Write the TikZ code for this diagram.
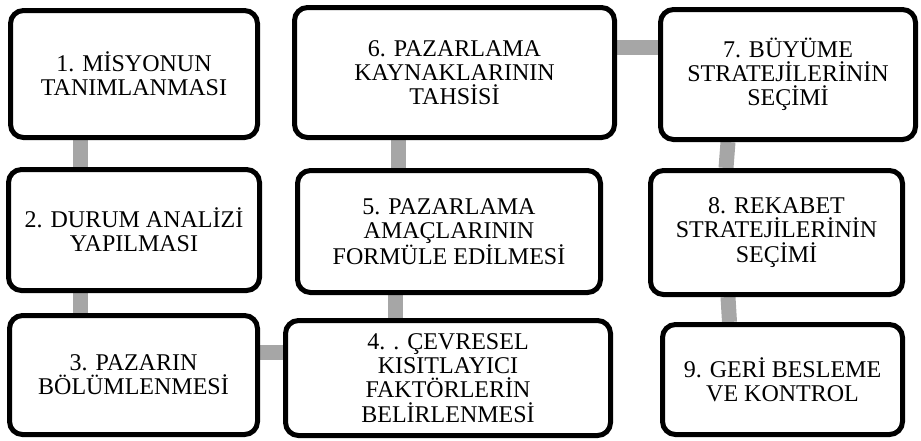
\documentclass[tikz,border=0pt]{standalone}
\usepackage{fontspec}
\setmainfont{Liberation Serif}
\usetikzlibrary{backgrounds}
\definecolor{linkgray}{HTML}{A6A6A6}
\tikzset{
  stepbox/.style={draw=black, line width=5pt, rounded corners=13pt, fill=white,
    align=center, inner sep=0pt, font=\fontsize{24pt}{24.3pt}\selectfont},
  link/.style={draw=linkgray, line width=15pt},
}
\begin{document}
\begin{tikzpicture}[x=1pt,y=-1pt]
\useasboundingbox (0,0) rectangle (921,440);
% step boxes
\node[stepbox, minimum width=247pt, minimum height=127pt] (n1) at (134,74) {1. MİSYONUN\\TANIMLANMASI};
\node[stepbox, minimum width=251pt, minimum height=121pt] (n2) at (134,230) {2. DURUM ANALİZİ\\YAPILMASI};
\node[stepbox, minimum width=248pt, minimum height=119pt] (n3) at (133.5,375) {3. PAZARIN\\BÖLÜMLENMESİ};
\node[stepbox, minimum width=325pt, minimum height=115pt] (n4) at (448,378) {4. . ÇEVRESEL\\KISITLAYICI\\FAKTÖRLERİN\\BELİRLENMESİ};
\node[stepbox, minimum width=303pt, minimum height=122pt] (n5) at (449,231.5) {5. PAZARLAMA\\AMAÇLARININ\\FORMÜLE EDİLMESİ};
\node[stepbox, minimum width=320pt, minimum height=130pt] (n6) at (454.5,72.5) {6. PAZARLAMA\\KAYNAKLARININ\\TAHSİSİ};
\node[stepbox, minimum width=255pt, minimum height=130pt] (n7) at (788,74.5) {7. BÜYÜME\\STRATEJİLERİNİN\\SEÇİMİ};
\node[stepbox, minimum width=252pt, minimum height=124pt] (n8) at (776.5,232.5) {8. REKABET\\STRATEJİLERİNİN\\SEÇİMİ};
\node[stepbox, minimum width=240pt, minimum height=110pt] (n9) at (782.5,379.5) {9. GERİ BESLEME\\VE KONTROL};
% grey links behind the boxes
\begin{scope}[on background layer]
\path[link] ([xshift=-53.5pt]n1.south) -- ([xshift=-53.5pt]n2.north);
\path[link] ([xshift=-53.5pt]n2.south) -- ([xshift=-53pt]n3.north);
\path[link] ([yshift=22.5pt]n3.east) -- ([yshift=25.5pt]n4.west);
\path[link] ([xshift=-53pt]n4.north) -- ([xshift=-54pt]n5.south);
\path[link] ([xshift=-51pt]n5.north) -- ([xshift=-56.5pt]n6.south);
\path[link] ([yshift=25pt]n6.east) -- ([yshift=27pt]n7.west);
\path[link] ([xshift=-60pt]n7.south) -- ([xshift=-50.5pt]n8.north);
\path[link] ([xshift=-48.5pt]n8.south) -- ([xshift=-53pt]n9.north);
\end{scope}
\end{tikzpicture}
\end{document}
